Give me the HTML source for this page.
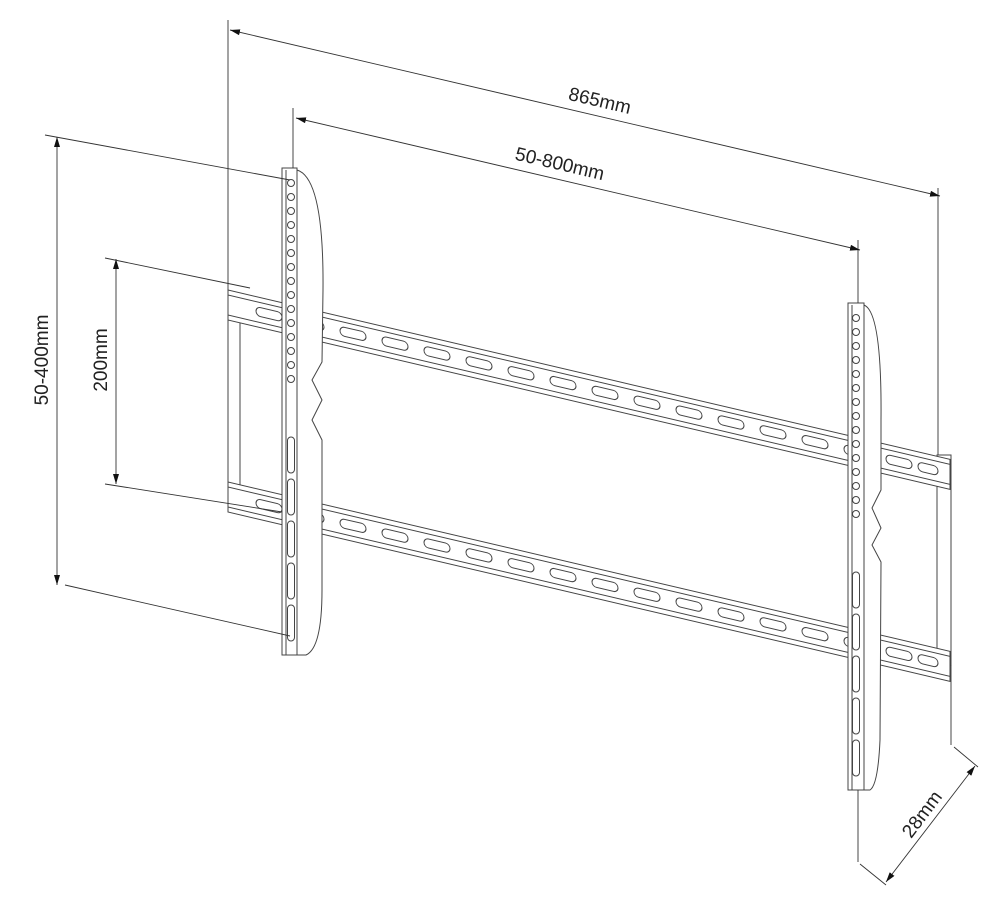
<!DOCTYPE html>
<html><head><meta charset="utf-8"><style>
html,body{margin:0;padding:0;background:#fff;}
svg{display:block}
text{font-family:"Liberation Sans",sans-serif;font-size:19px;fill:#222}
</style></head><body>
<svg width="1000" height="902" viewBox="0 0 1000 902" xmlns="http://www.w3.org/2000/svg">
<defs>
<marker id="a" viewBox="0 0 10 6" refX="10" refY="3" markerWidth="10" markerHeight="6" orient="auto-start-reverse" markerUnits="userSpaceOnUse"><path d="M0,0 L10,3 L0,6z" fill="#111"/></marker>
<g id="slots">
<rect x="28" y="10" width="26" height="9" rx="4.5"/><rect x="70" y="10" width="26" height="9" rx="4.5"/>
<rect x="112" y="10" width="26" height="9" rx="4.5"/><rect x="154" y="10" width="26" height="9" rx="4.5"/>
<rect x="196" y="10" width="26" height="9" rx="4.5"/><rect x="238" y="10" width="26" height="9" rx="4.5"/>
<rect x="280" y="10" width="26" height="9" rx="4.5"/><rect x="322" y="10" width="26" height="9" rx="4.5"/>
<rect x="364" y="10" width="26" height="9" rx="4.5"/><rect x="406" y="10" width="26" height="9" rx="4.5"/>
<rect x="448" y="10" width="26" height="9" rx="4.5"/><rect x="490" y="10" width="26" height="9" rx="4.5"/>
<rect x="532" y="10" width="26" height="9" rx="4.5"/><rect x="574" y="10" width="26" height="9" rx="4.5"/>
<rect x="616" y="10" width="26" height="9" rx="4.5"/><rect x="658" y="10" width="26" height="9" rx="4.5"/>
<rect x="690" y="10" width="20" height="9" rx="4.5"/>
</g>
<g id="rail">
<rect x="0" y="0" width="722" height="30" fill="#fff"/>
<line x1="0" y1="5" x2="722" y2="5"/><line x1="0" y1="25" x2="722" y2="25"/>
<use href="#slots"/>
</g>
<g id="holes">
<circle cx="0" cy="0" r="3.5"/><circle cx="0" cy="14" r="3.5"/><circle cx="0" cy="28" r="3.5"/><circle cx="0" cy="42" r="3.5"/>
<circle cx="0" cy="56" r="3.5"/><circle cx="0" cy="70" r="3.5"/><circle cx="0" cy="84" r="3.5"/><circle cx="0" cy="98" r="3.5"/>
<circle cx="0" cy="112" r="3.5"/><circle cx="0" cy="126" r="3.5"/><circle cx="0" cy="140" r="3.5"/><circle cx="0" cy="154" r="3.5"/>
<circle cx="0" cy="168" r="3.5"/><circle cx="0" cy="182" r="3.5"/><circle cx="0" cy="196" r="3.5"/>
<rect x="-3.5" y="254" width="7" height="36" rx="3.5"/><rect x="-3.5" y="296" width="7" height="36" rx="3.5"/>
<rect x="-3.5" y="338" width="7" height="36" rx="3.5"/><rect x="-3.5" y="380" width="7" height="36" rx="3.5"/>
<rect x="-3.5" y="422" width="7" height="36" rx="3.5"/>
</g>
</defs>

<g stroke="#444" stroke-width="1" fill="none">
<rect x="228" y="293" width="12" height="205" fill="#fff"/>
<rect x="937" y="455" width="14" height="210" fill="#fff"/>
<g transform="translate(228,290) skewY(13.2)"><use href="#rail"/></g>
<g transform="translate(228,482) skewY(13.2)"><use href="#rail"/></g>

<!-- left bracket -->
<path d="M297,170 Q324,178 323,290 L322,362 L312,380 L322,400 L312,420 L322,440 L322,455 L322,590 Q322,648 306,655 L297,655 Z" fill="#fff"/>
<rect x="282" y="168" width="15" height="487" fill="#fff"/>
<line x1="286" y1="170" x2="286" y2="655"/>
<g transform="translate(291,183)"><use href="#holes"/></g>

<!-- right bracket -->
<path d="M864,305 Q882,312 881,420 L881,490 L872,508 L881,528 L872,545 L881,562 L880,740 Q878,785 870,790 L864,790 Z" fill="#fff"/>
<rect x="848" y="303" width="16" height="487" fill="#fff"/>
<line x1="852" y1="305" x2="852" y2="790"/>
<g transform="translate(856,318)"><use href="#holes"/></g>
</g>

<g stroke="#333" stroke-width="0.9" fill="none">
<line x1="228" y1="20" x2="228" y2="290"/>
<line x1="938" y1="188" x2="938" y2="455"/>
<line x1="951" y1="665" x2="951" y2="745"/>
<line x1="230" y1="30" x2="940" y2="196" marker-start="url(#a)" marker-end="url(#a)"/>
<line x1="293" y1="108" x2="293" y2="168"/>
<line x1="858" y1="240" x2="858" y2="303"/>
<line x1="858" y1="790" x2="858" y2="862"/>
<line x1="296" y1="118" x2="860" y2="250" marker-start="url(#a)" marker-end="url(#a)"/>
<line x1="57" y1="137" x2="57" y2="585" marker-start="url(#a)" marker-end="url(#a)"/>
<line x1="45" y1="135" x2="290" y2="180"/>
<line x1="65" y1="585" x2="290" y2="636"/>
<line x1="116" y1="259" x2="116" y2="484" marker-start="url(#a)" marker-end="url(#a)"/>
<line x1="105" y1="258" x2="250" y2="288"/>
<line x1="105" y1="484" x2="282" y2="512"/>
<line x1="860" y1="864" x2="886" y2="885"/>
<line x1="954" y1="747" x2="978" y2="767"/>
<line x1="886" y1="882" x2="975" y2="766" marker-start="url(#a)" marker-end="url(#a)"/>
</g>

<text x="600" y="107" text-anchor="middle" transform="rotate(13.2 600 100)">865mm</text>
<text x="560" y="170" text-anchor="middle" transform="rotate(13.2 560 163)">50-800mm</text>
<text x="0" y="0" text-anchor="middle" transform="translate(48,360) rotate(-90)">50-400mm</text>
<text x="0" y="0" text-anchor="middle" transform="translate(107,360) rotate(-90)">200mm</text>
<text x="0" y="0" text-anchor="middle" transform="translate(927,818) rotate(-53)">28mm</text>
</svg>
</body></html>
